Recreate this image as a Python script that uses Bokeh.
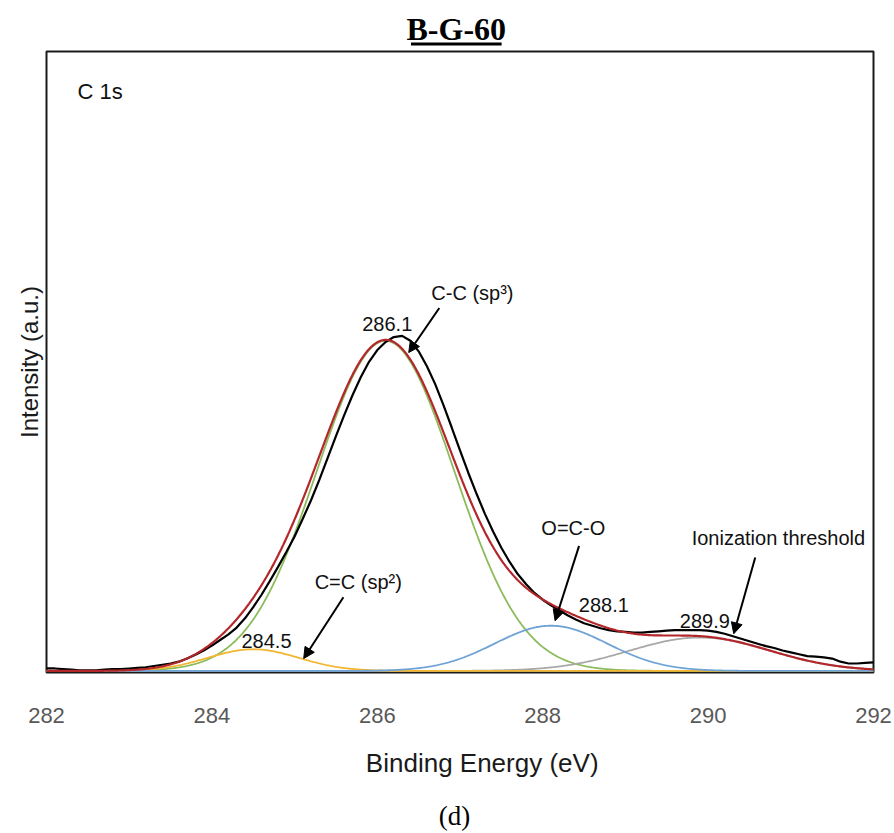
import numpy as np
from bokeh.plotting import figure
from bokeh.layouts import column
from bokeh.models import Label, Arrow, NormalHead, Range1d, FixedTicker
from bokeh.core.properties import value
from bokeh.embed import file_html
from bokeh.resources import INLINE

# ---------------- data ----------------
# measured C 1s spectrum (black), binding energy grid 282.0 .. 292.0 eV, step 0.1
energy = np.round(np.linspace(282.0, 292.0, 101), 1)
intensity = [
    0.4, 0.4, 0.3, 0.2, 0.1, 0.1, 0.1, 0.2, 0.3, 0.3,          # 282.0-282.9
    0.4, 0.5, 0.6, 0.8, 1.0, 1.2, 1.5, 2.0, 2.6, 3.3,          # 283.0-283.9
    4.1, 5.0, 5.9, 7.0, 8.5, 10.3, 12.3, 14.5, 16.8, 19.2,     # 284.0-284.9
    21.7, 24.6, 27.6, 30.9, 34.4, 37.9, 41.3, 44.5, 47.4, 49.9,  # 285.0-285.9
    51.8, 53.1, 53.9, 54.1, 53.3, 51.6, 49.2, 46.3, 42.9, 39.3,  # 286.0-286.9
    35.6, 32.0, 28.6, 25.4, 22.5, 19.9, 17.6, 15.6, 14.0, 12.6,  # 287.0-287.9
    11.5, 10.6, 9.8, 9.0, 8.3, 7.7, 7.3, 6.9, 6.6, 6.4,        # 288.0-288.9
    6.3, 6.2, 6.2, 6.3, 6.4, 6.5, 6.6, 6.6, 6.6, 6.6,          # 289.0-289.9
    6.5, 6.3, 6.0, 5.6, 5.2, 4.8, 4.4, 4.0, 3.7, 3.3,          # 290.0-290.9
    3.0, 2.7, 2.4, 2.3, 2.2, 2.0, 1.5, 1.2, 1.2, 1.3,          # 291.0-291.9
    1.4,                                                       # 292.0
]

# fitted component peaks
peak_names = ["C=C (sp2)", "C-C (sp3)", "O=C-O", "Ionization threshold"]
peak_centers = [284.5, 286.1, 288.1, 289.9]
peak_heights = [3.5, 53.3, 7.3, 5.4]
peak_sigmas = [0.55, 0.83, 0.68, 0.85]
peak_colors = ["#f2b632", "#8bbb5a", "#6fa3d6", "#a8a8a8"]

# annotation texts (text, x, y)
ann_text = ["C 1s", "286.1", "C-C (sp\u00b3)", "C=C (sp\u00b2)", "284.5", "O=C-O", "288.1", "289.9", "Ionization threshold"]
ann_x = [282.375, 286.12, 287.15, 285.77, 284.66, 288.37, 288.74, 289.96, 290.85]
ann_y = [93.6, 56.0, 61.0, 14.3, 4.9, 23.1, 10.6, 8.1, 21.4]

# arrows (x_start, y_start, x_end, y_end)
arrow_x0 = [286.75, 285.59, 288.44, 290.57]
arrow_y0 = [58.6, 11.9, 20.2, 18.3]
arrow_x1 = [286.38, 285.11, 288.15, 290.31]
arrow_y1 = [51.4, 2.0, 8.1, 6.0]

x_ticks = [282, 284, 286, 288, 290, 292]
chart_title = "B-G-60"
x_label = "Binding Energy (eV)"
y_label = "Intensity (a.u.)"
panel_tag = "(d)"

FONT = "Liberation Sans"
W = 894
TOP_H = 46
MAIN_TOP, MAIN_FRAME, MAIN_BOTTOM = 5, 621, 70
MAIN_H = MAIN_TOP + MAIN_FRAME + MAIN_BOTTOM
BOT_H = 833 - TOP_H - MAIN_H
SX = -12  # horizontal correction of the text strips


def strip(height):
    # a plain drawing strip in pixel coordinates (y measured downward)
    s = figure(width=W, height=height, x_range=Range1d(0, W), y_range=Range1d(height, 0),
               output_backend="svg", toolbar_location=None,
               x_axis_location=None, y_axis_location=None,
               min_border=0, min_border_left=0, min_border_right=0,
               min_border_top=0, min_border_bottom=0)
    s.outline_line_color = None
    s.xgrid.visible = False
    s.ygrid.visible = False
    s.background_fill_color = "white"
    s.border_fill_color = "white"
    return s


# ---------------- title strip ----------------
pt = strip(TOP_H)
pt.text(x=[455 + SX], y=[28], text=[chart_title], text_align="center", text_baseline="middle",
        text_font=value("Liberation Serif"), text_font_style="bold",
        text_font_size="32px", text_color="black")
pt.segment(x0=[406 + SX], y0=[43.5], x1=[504 + SX], y1=[43.5], line_color="black", line_width=3)

# ---------------- main figure ----------------
p = figure(width=W, height=MAIN_H, x_range=Range1d(282, 292), y_range=Range1d(-0.25, 100),
           output_backend="svg", toolbar_location=None,
           min_border_left=46, min_border_right=21,
           min_border_top=MAIN_TOP, min_border_bottom=MAIN_BOTTOM)
p.background_fill_color = "white"
p.border_fill_color = "white"
p.xgrid.visible = False
p.ygrid.visible = False
p.outline_line_color = "#1a1a1a"
p.outline_line_width = 2

xa = p.xaxis[0]
xa.ticker = FixedTicker(ticks=x_ticks)
xa.axis_line_color = None
xa.major_tick_line_color = None
xa.minor_tick_line_color = None
xa.major_tick_out = 0
xa.major_tick_in = 0
xa.major_label_standoff = 35
xa.major_label_text_font = FONT
xa.major_label_text_font_size = "22px"
xa.major_label_text_color = "#595959"

ya = p.yaxis[0]
ya.ticker = FixedTicker(ticks=[])
ya.axis_line_color = None
ya.major_tick_line_color = None
ya.minor_tick_line_color = None
ya.major_tick_out = 0
ya.major_tick_in = 0
ya.axis_label = y_label
ya.axis_label_text_font = FONT
ya.axis_label_text_font_size = "24px"
ya.axis_label_text_font_style = "normal"
ya.axis_label_text_color = "#1a1a1a"
ya.axis_label_standoff = 4

# component peaks
xf = np.linspace(282, 292, 801)
comps = []
for c, h, s in zip(peak_centers, peak_heights, peak_sigmas):
    comps.append(h * np.exp(-(xf - c) ** 2 / (2 * s * s)))
for i in [1, 3, 0, 2]:  # green, gray, yellow, blue
    p.line(xf, comps[i], line_color=peak_colors[i], line_width=1.8)

envelope = np.sum(comps, axis=0)
p.line(energy, intensity, line_color="#000000", line_width=2.2)
p.line(xf, envelope, line_color="#b3262a", line_width=2.2)

# annotations inside the frame
for t, x, y in zip(ann_text, ann_x, ann_y):
    align = "left" if t == "C 1s" else "center"
    size = "22px" if t == "C 1s" else "20px"
    p.add_layout(Label(x=x, y=y, text=t, text_align=align, text_baseline="middle",
                       text_font=FONT, text_font_size=size, text_color="#111111"))

for xs, ys, xe, ye in zip(arrow_x0, arrow_y0, arrow_x1, arrow_y1):
    p.add_layout(Arrow(end=NormalHead(size=11, fill_color="black", line_color="black"),
                       x_start=xs, y_start=ys, x_end=xe, y_end=ye,
                       line_color="black", line_width=2))

# ---------------- bottom strip: x-axis title and panel tag ----------------
pb = strip(BOT_H)
y0 = TOP_H + MAIN_H  # canvas y of the strip's top edge
pb.text(x=[483 + SX], y=[762 - y0], text=[x_label], text_align="center", text_baseline="middle",
        text_font=value(FONT), text_font_size="26px", text_color="#1a1a1a")
pb.text(x=[453 + SX], y=[815 - y0], text=[panel_tag], text_align="center", text_baseline="middle",
        text_font=value("Liberation Serif"), text_font_size="27px", text_color="black")

layout = column(pt, p, pb, spacing=0)
open("out.html", "w").write(file_html(layout, INLINE))
